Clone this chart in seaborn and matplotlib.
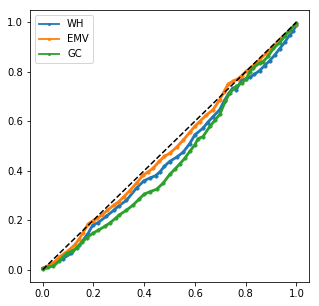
from matplotlib import pyplot as plt
import seaborn as sns
import pandas as pd

# values
wh_x = [0.0, 0.012, 0.03, 0.047, 0.08, 0.113, 0.145, 0.178, 0.198, 0.218, 0.25, 0.28, 0.30, 0.33,
        0.37, 0.40, 0.422, 0.445, 0.462, 0.48, 0.50, 0.528, 0.554, 0.58, 0.60, 0.632, 0.65, 0.672,
        0.698, 0.718, 0.735, 0.75, 0.764, 0.783, 0.80, 0.816, 0.835, 0.855, 0.875, 0.895, 0.915,
        0.934, 0.955, 0.974, 0.987, 1.0]
wh_y = [0.005, 0.01, 0.018, 0.025, 0.045, 0.066, 0.10, 0.145, 0.181, 0.19, 0.215, 0.24, 0.258, 0.28,
        0.33, 0.36, 0.37, 0.38, 0.395, 0.418, 0.437, 0.455, 0.475, 0.51, 0.545, 0.572, 0.595, 0.619,
        0.647, 0.687, 0.715, 0.735, 0.728, 0.765, 0.772, 0.778, 0.79, 0.805, 0.825, 0.845, 0.868,
        0.893, 0.92, 0.95, 0.965, 0.99]

emv_x = [0.0, 0.012, 0.03, 0.047, 0.065, 0.087, 0.105, 0.126, 0.145, 0.159, 0.18, 0.198, 0.215, 0.235,
         0.255, 0.28, 0.30, 0.32, 0.344, 0.37, 0.396, 0.415, 0.435, 0.46, 0.48, 0.50, 0.528, 0.555,
         0.58, 0.60, 0.619, 0.645, 0.672, 0.698, 0.715, 0.731, 0.75, 0.77, 0.785, 0.803, 0.83, 0.855,
         0.882, 0.91, 0.94, 0.97, 1.0]
emv_y = [0.005, 0.012, 0.02, 0.032, 0.05, 0.066, 0.08, 0.10, 0.125, 0.15, 0.185, 0.198, 0.207, 0.222,
         0.24, 0.26, 0.275, 0.295, 0.32, 0.35, 0.382, 0.395, 0.41, 0.438, 0.458, 0.47, 0.495, 0.525,
         0.555, 0.58, 0.599, 0.625, 0.647, 0.687, 0.72, 0.75, 0.762, 0.772, 0.785, 0.802, 0.825, 0.849,
         0.876, 0.905, 0.935, 0.965, 0.995]

gc_x = [0.0, 0.02, 0.042, 0.065, 0.094, 0.115, 0.134, 0.155, 0.173, 0.199, 0.22, 0.245, 0.265, 0.29,
        0.30, 0.33, 0.357, 0.38, 0.40, 0.422, 0.449, 0.475, 0.501, 0.52, 0.541, 0.56, 0.58, 0.60,
        0.613, 0.632, 0.659, 0.68, 0.698, 0.72, 0.737, 0.764, 0.785, 0.803, 0.816, 0.829, 0.855,
        0.868, 0.888, 0.91, 0.934, 0.955, 0.974, 1.0]
gc_y = [0.004, 0.01, 0.015, 0.035, 0.065, 0.075, 0.088, 0.11, 0.128, 0.148, 0.16, 0.175, 0.189, 0.21,
        0.22, 0.24, 0.262, 0.285, 0.305, 0.315, 0.325, 0.35, 0.385, 0.405, 0.428, 0.45, 0.478, 0.505,
        0.53, 0.538, 0.579, 0.605, 0.628, 0.68, 0.714, 0.741, 0.755, 0.772, 0.80, 0.815, 0.835,
        0.84, 0.862, 0.895, 0.917, 0.945, 0.97, 0.997]

diag = [0, 1]

series = [("WH", wh_x, wh_y), ("EMV", emv_x, emv_y), ("GC", gc_x, gc_y)]
colors = sns.color_palette("tab10", 3)

plt.rcParams['font.family'] = ['DejaVu Sans']
plt.rcParams['font.size'] = 10

fig = plt.figure(figsize=(319 / 72, 306 / 72), dpi=72)
ax = fig.add_axes([30 / 319, 24 / 306, 279 / 319, 272 / 306])

for (name, xs, ys), c in zip(series, colors):
    df = pd.DataFrame({"x": xs, "y": ys})
    sns.lineplot(data=df, x="x", y="y", ax=ax, color=c, label=name, marker=".",
                 markersize=7, markeredgecolor=c, markeredgewidth=0.5, linewidth=2.8)

ax.plot(diag, diag, "k--", linewidth=1.5)

ax.set_xlabel("")
ax.set_ylabel("")
ax.set_xticks([0.0, 0.2, 0.4, 0.6, 0.8, 1.0])
ax.set_yticks([0.0, 0.2, 0.4, 0.6, 0.8, 1.0])
leg = ax.legend(loc="upper left")
for line in leg.get_lines():
    line.set_linewidth(1.8)
    line.set_markersize(5)

fig.savefig("out.png", dpi=72)
